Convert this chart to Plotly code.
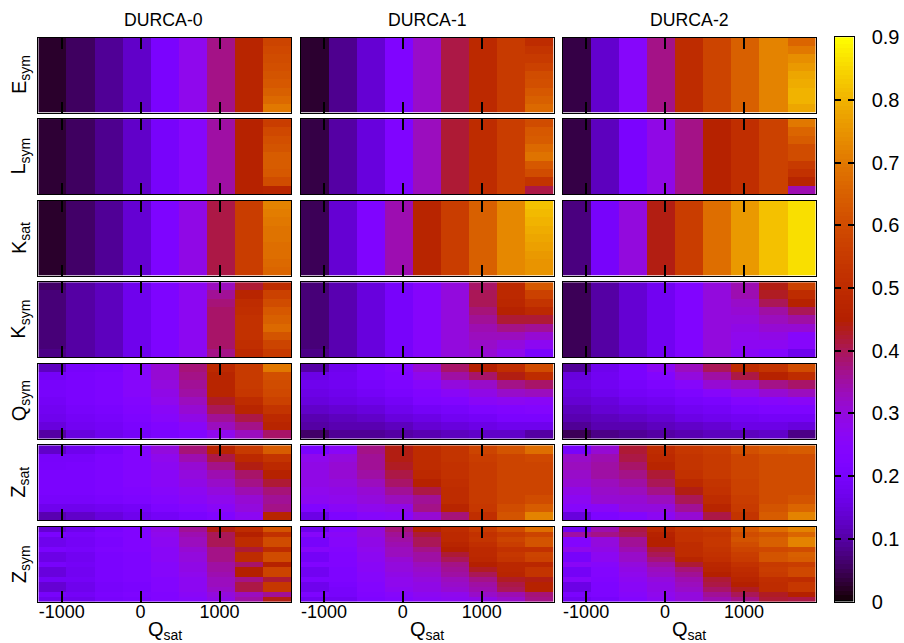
import math
import numpy as np
import plotly.graph_objects as go

# ---------- data (each panel: list of 9 columns, each column listed top row to bottom row) ----------
Q_sat = [-1119, -763, -406, -50, 307, 663, 1019, 1376, 1732]
durca = ["DURCA-0", "DURCA-1", "DURCA-2"]
row_labels = ["E<sub>sym</sub>", "L<sub>sym</sub>", "K<sub>sat</sub>", "K<sub>sym</sub>",
              "Q<sub>sym</sub>", "Z<sub>sat</sub>", "Z<sub>sym</sub>"]
x_ticks = [-1000, 0, 1000]
x_labels = ["-1000", "0", "1000"]
cb_ticks = [0, 0.1, 0.2, 0.3, 0.4, 0.5, 0.6, 0.7, 0.8, 0.9]
cb_labels = ["0", "0.1", "0.2", "0.3", "0.4", "0.5", "0.6", "0.7", "0.8", "0.9"]

E_sym_0 = [[.025]*9, [.055]*9, [.09]*9, [.13]*9, [.21]*9, [.28]*9, [.37]*9, [.47]*9,
           [.58, .59, .60, .61, .62, .63, .65, .67, .70]]
L_sym_0 = [[.03]*9, [.055]*9, [.085]*9, [.13]*9, [.20]*9, [.25]*9, [.35]*9, [.46]*9,
           [.56, .59, .61, .62, .64, .64, .63, .60, .47]]
K_sat_0 = [[.025]*9, [.06]*9, [.09]*9, [.14]*9, [.22]*9, [.29]*9, [.41]*9, [.56]*9,
           [.72, .71, .70, .69, .69, .68, .68, .67, .66]]
K_sym_0 = [[.06, .07, .07, .07, .07, .07, .07, .07, .08], [.10]*9, [.12]*9, [.17]*9, [.22]*9, [.27]*9,
           [.33, .36, .38, .39, .39, .39, .39, .39, .37],
           [.42, .47, .50, .51, .52, .52, .52, .51, .49],
           [.50, .57, .60, .63, .65, .67, .62, .58, .55]]
Q_sym_0 = [[.12, .19, .20, .20, .19, .18, .17, .15, .10],
           [.20, .21, .21, .21, .21, .20, .19, .18, .15],
           [.21, .22, .22, .22, .22, .21, .20, .19, .17],
           [.25, .25, .25, .25, .24, .23, .22, .21, .19],
           [.31, .31, .30, .29, .28, .26, .25, .23, .21],
           [.38, .37, .36, .35, .33, .31, .29, .26, .23],
           [.49, .47, .47, .47, .43, .40, .36, .33, .28],
           [.55, .55, .55, .54, .50, .47, .41, .37, .33],
           [.70, .61, .60, .59, .57, .53, .49, .47, .39]]
Z_sat_0 = [[.13, .20, .205, .21, .21, .21, .20, .17, .11],
           [.17, .20, .21, .21, .21, .21, .20, .17, .13],
           [.20, .22, .22, .22, .22, .22, .21, .18, .15],
           [.24, .24, .24, .24, .24, .23, .22, .19, .17],
           [.30, .28, .27, .26, .26, .25, .24, .22, .19],
           [.38, .34, .31, .30, .29, .27, .26, .24, .21],
           [.47, .41, .37, .34, .32, .30, .28, .26, .23],
           [.55, .49, .44, .39, .37, .34, .31, .30, .27],
           [.64, .53, .49, .46, .42, .38, .36, .37, .47]]
Z_sym_0 = [[.14, .21, .17, .17, .21, .16, .16, .20, .15, .15, .19, .14, .14, .20, .17],
           [.17, .20, .19, .19, .20, .18, .18, .19, .18, .18, .19, .17, .17, .19, .17],
           [.21, .22, .21, .21, .22, .21, .21, .21, .21, .21, .21, .20, .20, .21, .20],
           [.23, .23, .23, .23, .23, .22, .22, .22, .22, .22, .22, .21, .21, .22, .21],
           [.29, .28, .27, .27, .26, .26, .26, .25, .25, .25, .24, .24, .24, .23, .23],
           [.36, .34, .33, .33, .31, .30, .30, .29, .29, .28, .27, .27, .27, .26, .25],
           [.44, .40, .40, .40, .37, .37, .37, .35, .35, .34, .33, .33, .32, .30, .29],
           [.50, .45, .50, .50, .42, .50, .50, .39, .45, .45, .37, .41, .41, .33, .35],
           [.62, .52, .60, .60, .50, .60, .60, .46, .58, .58, .42, .54, .54, .36, .44]]

E_sym_1 = [[.027]*9, [.085]*9, [.14]*9, [.225]*9, [.32]*9, [.41]*9, [.49]*9, [.55]*9,
           [.50, .53, .55, .57, .60, .61, .63, .65, .67]]
L_sym_1 = [[.04]*9, [.10]*9, [.15]*9, [.225]*9, [.33]*9, [.42]*9, [.50]*9, [.56]*9,
           [.60, .63, .64, .67, .69, .63, .60, .53, .41]]
K_sat_1 = [[.05]*9, [.14]*9, [.225]*9, [.34]*9, [.47]*9, [.56]*9, [.65]*9, [.73]*9,
           [.82, .81, .80, .79, .78, .77, .76, .75, .75]]
K_sym_1 = [[.07, .07, .07, .07, .07, .07, .07, .07, .08], [.11]*9, [.15]*9, [.20]*9, [.245]*9, [.30]*9,
           [.39, .40, .40, .38, .36, .34, .33, .32, .31],
           [.49, .49, .48, .46, .42, .37, .33, .30, .28],
           [.63, .57, .53, .49, .42, .36, .31, .27, .21]]
Q_sym_1 = [[.10, .16, .17, .16, .15, .13, .11, .10, .06],
           [.17, .18, .18, .17, .16, .14, .12, .11, .09],
           [.21, .21, .20, .19, .17, .15, .13, .11, .09],
           [.24, .23, .22, .21, .19, .17, .15, .12, .10],
           [.31, .28, .25, .23, .22, .19, .16, .14, .11],
           [.39, .35, .30, .26, .23, .20, .18, .15, .12],
           [.45, .39, .32, .29, .26, .22, .19, .16, .13],
           [.51, .44, .37, .32, .27, .23, .21, .17, .13],
           [.60, .50, .39, .33, .26, .24, .21, .17, .10]]
Z_sat_1 = [[.21, .28, .29, .29, .29, .28, .27, .23, .16],
           [.26, .30, .31, .31, .30, .29, .28, .26, .22],
           [.37, .36, .36, .35, .33, .31, .30, .28, .25],
           [.44, .44, .43, .41, .39, .36, .33, .29, .26],
           [.50, .50, .50, .49, .46, .41, .36, .37, .31],
           [.53, .53, .52, .52, .51, .50, .50, .47, .38],
           [.58, .56, .55, .55, .55, .55, .55, .54, .51],
           [.62, .58, .58, .58, .58, .58, .58, .60, .62],
           [.68, .59, .58, .58, .58, .58, .60, .64, .72]]
Z_sym_1 = [[.17, .25, .20, .20, .25, .19, .19, .23, .18, .18, .22, .17, .17, .22, .18],
           [.24, .26, .25, .25, .24, .23, .23, .23, .22, .22, .22, .21, .20, .20, .18],
           [.30, .30, .29, .29, .28, .27, .27, .26, .26, .25, .25, .24, .24, .23, .22],
           [.38, .36, .35, .34, .33, .33, .31, .30, .30, .29, .28, .28, .27, .25, .24],
           [.46, .42, .40, .40, .37, .35, .35, .33, .32, .31, .30, .29, .29, .27, .26],
           [.50, .49, .49, .47, .45, .42, .40, .37, .36, .35, .33, .32, .31, .28, .27],
           [.55, .52, .53, .51, .49, .49, .48, .45, .43, .40, .37, .35, .34, .32, .29],
           [.60, .55, .58, .56, .52, .54, .53, .48, .48, .47, .43, .41, .40, .34, .32],
           [.68, .58, .62, .62, .52, .58, .57, .48, .53, .53, .44, .46, .46, .38, .37]]

E_sym_2 = [[.04]*9, [.135]*9, [.25]*9, [.37]*9, [.50]*9, [.58]*9, [.65]*9, [.72]*9,
           [.66, .70, .74, .76, .78, .79, .80, .80, .78]]
L_sym_2 = [[.04]*9, [.12]*9, [.21]*9, [.29]*9, [.37]*9, [.46]*9, [.51]*9, [.57]*9,
           [.70, .66, .64, .60, .60, .55, .52, .47, .34]]
K_sat_2 = [[.075]*9, [.20]*9, [.30]*9, [.44]*9, [.56]*9, [.68]*9, [.76]*9, [.82]*9, [.86]*9]
K_sym_2 = [[.05]*9, [.10]*9, [.14]*9, [.18]*9, [.23]*9, [.30]*9,
           [.34, .34, .32, .31, .30, .29, .28, .27, .26],
           [.44, .43, .40, .35, .33, .31, .29, .27, .24],
           [.57, .50, .46, .40, .35, .31, .25, .25, .17]]
Q_sym_2 = [[.09, .15, .16, .15, .14, .12, .11, .09, .05],
           [.17, .18, .18, .17, .15, .14, .12, .11, .08],
           [.21, .21, .20, .19, .17, .15, .13, .11, .09],
           [.27, .24, .22, .20, .18, .16, .14, .12, .10],
           [.33, .30, .25, .22, .20, .18, .16, .13, .11],
           [.40, .35, .31, .25, .21, .19, .17, .14, .12],
           [.50, .41, .33, .28, .24, .21, .18, .16, .12],
           [.53, .46, .37, .31, .25, .22, .19, .16, .13],
           [.60, .50, .39, .33, .26, .22, .19, .15, .08]]
Z_sat_2 = [[.20, .32, .33, .32, .31, .29, .27, .25, .15],
           [.31, .34, .35, .35, .33, .32, .31, .26, .22],
           [.42, .41, .39, .37, .35, .33, .31, .30, .24],
           [.50, .49, .47, .42, .40, .37, .33, .30, .27],
           [.54, .53, .53, .52, .49, .44, .40, .36, .31],
           [.56, .55, .55, .55, .53, .52, .50, .47, .41],
           [.61, .58, .58, .58, .57, .57, .56, .55, .53],
           [.63, .60, .60, .60, .60, .60, .60, .62, .64],
           [.64, .60, .60, .60, .60, .60, .62, .66, .72]]
Z_sym_2 = [[.18, .35, .24, .24, .28, .20, .20, .26, .19, .19, .25, .16, .16, .21, .18],
           [.34, .37, .30, .30, .29, .27, .27, .25, .24, .24, .23, .22, .22, .22, .20],
           [.41, .40, .36, .36, .34, .32, .32, .30, .29, .28, .27, .26, .26, .25, .24],
           [.49, .46, .45, .45, .42, .40, .38, .35, .33, .32, .30, .29, .29, .28, .27],
           [.53, .52, .52, .50, .50, .50, .47, .42, .38, .36, .34, .33, .32, .30, .30],
           [.55, .53, .54, .54, .53, .52, .51, .48, .47, .45, .42, .41, .39, .36, .34],
           [.63, .60, .62, .60, .58, .56, .55, .52, .50, .49, .47, .45, .43, .40, .37],
           [.68, .62, .65, .65, .59, .62, .62, .55, .56, .55, .51, .50, .50, .43, .42],
           [.72, .66, .72, .72, .60, .65, .64, .56, .59, .59, .50, .54, .54, .45, .41]]

panels = [[E_sym_0, E_sym_1, E_sym_2],
          [L_sym_0, L_sym_1, L_sym_2],
          [K_sat_0, K_sat_1, K_sat_2],
          [K_sym_0, K_sym_1, K_sym_2],
          [Q_sym_0, Q_sym_1, Q_sym_2],
          [Z_sat_0, Z_sat_1, Z_sat_2],
          [Z_sym_0, Z_sym_1, Z_sym_2]]

# ---------- style ----------
W, H = 904, 643
FONT = "Liberation Sans"
ZMAX = 0.9
col_left = [38.3, 300.5, 562.7]
panel_w = 253.0
row_top0, row_pitch, panel_h = 37.5, 81.55, 75.0
x_range = [-1297, 1910]


def gnuplot_color(t):
    """gnuplot's default pm3d palette (rgbformulae 7,5,15)."""
    r = math.sqrt(t)
    g = t ** 3
    b = max(0.0, math.sin(2 * math.pi * t))
    return f"rgb({round(255*r)},{round(255*g)},{round(255*b)})"


colorscale = [[i / 128, gnuplot_color(i / 128)] for i in range(129)]


def label(text, px, py, size=18, angle=0):
    return dict(text=text, x=px / W, y=1 - py / H, xref="paper", yref="paper",
                xanchor="center", yanchor="middle", textangle=angle, showarrow=False,
                font=dict(family=FONT, size=size, color="black"))


fig = go.Figure()
layout = {}
annotations = []
n = 0
for r, row in enumerate(panels):
    top = row_top0 + r * row_pitch
    for c, panel in enumerate(row):
        n += 1
        xname, yname = f"xaxis{n}", f"yaxis{n}"
        z = np.array(panel).T
        nrows = z.shape[0]
        fig.add_trace(go.Heatmap(z=z.tolist(), x=Q_sat, y=list(range(nrows)),
                                 colorscale=colorscale, zmin=0, zmax=ZMAX, showscale=False,
                                 xaxis=f"x{n}", yaxis=f"y{n}"))
        layout[xname] = dict(domain=[col_left[c] / W, (col_left[c] + panel_w) / W],
                             range=x_range, anchor=f"y{n}", tickmode="array", tickvals=x_ticks,
                             ticktext=x_labels, layer="above traces",
                             ticks="inside", ticklen=11, tickwidth=1.5, tickcolor="black",
                             showgrid=False, zeroline=False, showline=True, linecolor="black",
                             linewidth=1, mirror="ticks", showticklabels=r == 6,
                             ticklabelstandoff=-6,
                             tickfont=dict(family=FONT, size=18, color="black"))
        layout[yname] = dict(domain=[1 - (top + panel_h) / H, 1 - top / H],
                             range=[nrows - 0.5, -0.5], anchor=f"x{n}", showticklabels=False,
                             ticks="", showgrid=False, zeroline=False, showline=True,
                             linecolor="black", linewidth=1, mirror=True)
    annotations.append(label(row_labels[r], 20, top + panel_h / 2, size=20, angle=-90))

for c, name in enumerate(durca):
    cx = col_left[c] + panel_w / 2
    annotations.append(label(name, cx - (1.5 if c == 0 else 0), 20, size=17.7))
    annotations.append(label("Q<sub>sat</sub>", cx, 630, size=20))

# colour bar drawn as its own small axis so its ticks can sit on both edges
cb_levels = np.linspace(0, ZMAX, 129)
n += 1
fig.add_trace(go.Heatmap(z=[[v] for v in cb_levels], x=[0], y=cb_levels.tolist(),
                         colorscale=colorscale, zmin=0, zmax=ZMAX, showscale=False,
                         xaxis=f"x{n}", yaxis=f"y{n}", hoverinfo="skip"))
layout[f"xaxis{n}"] = dict(domain=[834.5 / W, 853.7 / W], range=[-0.5, 0.5], anchor=f"y{n}",
                           showticklabels=False, ticks="", showgrid=False, zeroline=False,
                           showline=True, linecolor="black", linewidth=1, mirror=True)
layout[f"yaxis{n}"] = dict(domain=[1 - 601.5 / H, 1 - 37.3 / H], range=[0, ZMAX], anchor=f"x{n}",
                           side="right", tickmode="array", tickvals=cb_ticks, ticktext=cb_labels,
                           layer="above traces",
                           ticks="inside", ticklen=6, tickwidth=1.5, tickcolor="black",
                           ticklabelstandoff=13, showgrid=False, zeroline=False, showline=True,
                           linecolor="black", linewidth=1, mirror="ticks",
                           tickfont=dict(family=FONT, size=20, color="black"))

fig.update_layout(width=W, height=H, margin=dict(l=0, r=0, t=0, b=0, autoexpand=False),
                  paper_bgcolor="white", plot_bgcolor="white", showlegend=False,
                  annotations=annotations, **layout)
fig.write_html("out.html", config={"displayModeBar": False},
               post_script="document.body.style.margin='0';document.body.style.overflow='hidden';")
